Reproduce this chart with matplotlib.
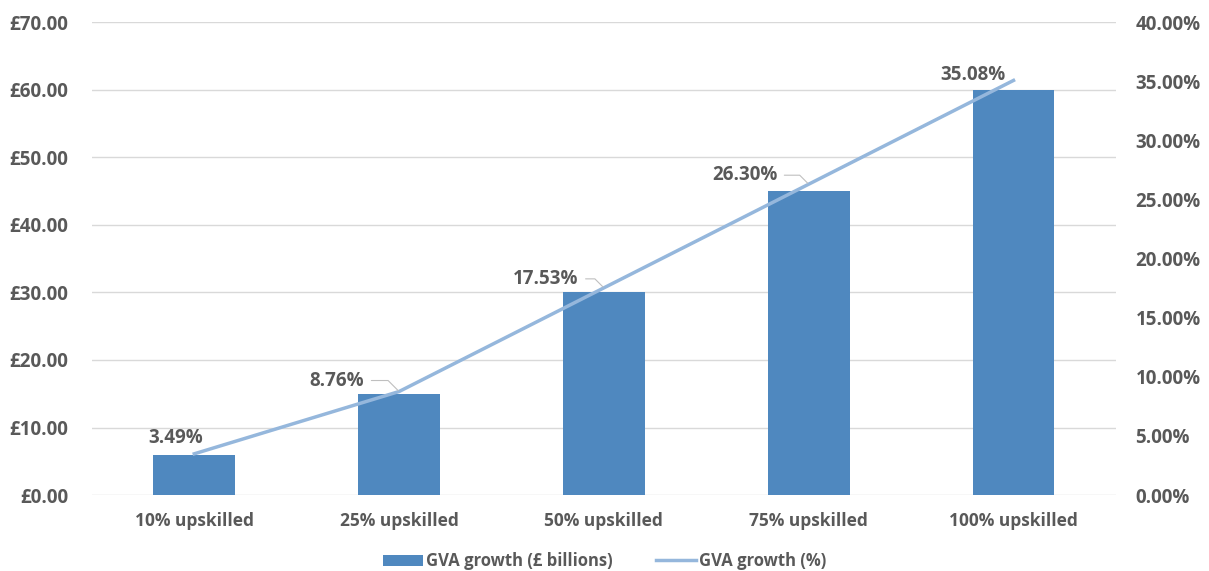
import matplotlib
matplotlib.use("Agg")
import matplotlib.pyplot as plt
from matplotlib.ticker import FuncFormatter, MultipleLocator

categories = ["10% upskilled", "25% upskilled", "50% upskilled", "75% upskilled", "100% upskilled"]
gva_billions = [6, 15, 30, 45, 60]
gva_pct = [3.49, 8.76, 17.53, 26.30, 35.08]
pct_labels = ["3.49%", "8.76%", "17.53%", "26.30%", "35.08%"]
# label offsets in pixels (dx, dy) relative to data point
label_offsets = [(-19, 16), (-62, 11), (-58, 9), (-64, 9), (-41, 5)]
leader = [False, True, True, True, False]

plt.rcParams['font.family'] = ['Open Sans', 'DejaVu Sans']
txt = '#595959'
bar_c = '#4F88BF'
line_c = '#95B7DC'
fs_y = 13.5
fs_x = 12.5
fs_lab = 13.5
fs_leg = 12

fig = plt.figure(figsize=(12.09, 5.71), dpi=100)
ax = fig.add_axes([0.076, 0.133, 0.847, 0.828])
ax2 = ax.twinx()

x = list(range(len(categories)))
ax.bar(x, gva_billions, width=0.4, color=bar_c, zorder=2, label="GVA growth (£ billions)")
ax.set_ylim(0, 70)
ax.set_xlim(-0.5, len(categories) - 0.5)
ax.yaxis.set_major_locator(MultipleLocator(10))
ax.yaxis.set_major_formatter(FuncFormatter(lambda v, p: f"£{v:.2f}"))
ax.grid(axis='y', color='#D9D9D9', linewidth=1, zorder=0)
ax.set_axisbelow(True)
ax.set_xticks(x)
ax.set_xticklabels(categories)

ln, = ax2.plot(x, gva_pct, color=line_c, linewidth=2.5, zorder=3, label="GVA growth (%)")
ax2.set_ylim(0, 40)
ax2.yaxis.set_major_locator(MultipleLocator(5))
ax2.yaxis.set_major_formatter(FuncFormatter(lambda v, p: f"{v:.2f}%"))

for a in (ax, ax2):
    for s in a.spines.values():
        s.set_visible(False)
    a.tick_params(length=0, colors=txt)
    a.tick_params(axis='y', labelsize=fs_y)
    a.tick_params(axis='x', labelsize=fs_x)
    for lab in a.get_yticklabels() + a.get_xticklabels():
        lab.set_fontweight('bold')
        lab.set_color(txt)
ax.tick_params(axis='y', pad=17)
ax2.tick_params(axis='y', pad=14)
ax.tick_params(axis='x', pad=12)

for xi, yi, lab, (dx, dy), ld in zip(x, gva_pct, pct_labels, label_offsets, leader):
    if ld:
        ax2.annotate(lab, xy=(xi, yi), xytext=(dx, dy), textcoords='offset pixels',
                     ha='center', va='center', fontsize=fs_lab, fontweight='bold', color=txt,
                     arrowprops=dict(arrowstyle='-', color='#BFBFBF', lw=0.8,
                                     shrinkA=3, shrinkB=1,
                                     connectionstyle="angle,angleA=0,angleB=-45,rad=0",
                                     relpos=(1.0, 0.5)), zorder=5)
    else:
        ax2.annotate(lab, xy=(xi, yi), xytext=(dx, dy), textcoords='offset pixels',
                     ha='center', va='center', fontsize=fs_lab, fontweight='bold', color=txt, zorder=5)

h1, l1 = ax.get_legend_handles_labels()
leg = fig.legend(h1 + [ln], l1 + ["GVA growth (%)"], loc='center', bbox_to_anchor=(0.5, 0.017),
                 ncol=2, frameon=False, fontsize=fs_leg, handlelength=2.4, handleheight=0.7,
                 handletextpad=0.2, columnspacing=2.6)
for t in leg.get_texts():
    t.set_color(txt)
    t.set_fontweight('bold')

fig.savefig("out.png", dpi=100)
